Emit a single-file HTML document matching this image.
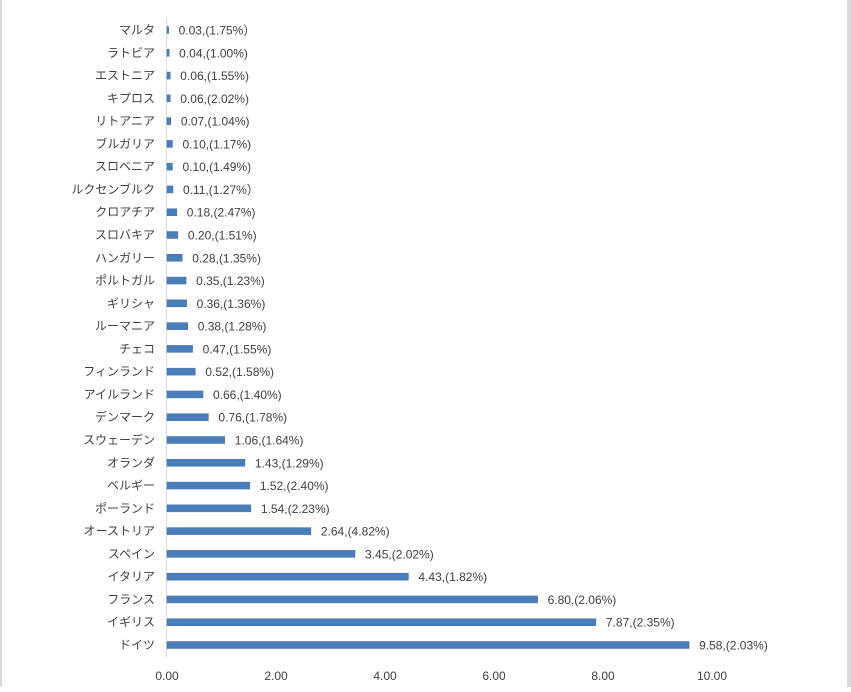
<!DOCTYPE html>
<html><head><meta charset="utf-8"><style>
body{margin:0;background:#fff}
svg text{font-family:"Liberation Sans","Noto Sans CJK JP",sans-serif;font-size:12px;fill:#404040}
</style></head><body>
<svg id="c" width="851" height="687" xmlns="http://www.w3.org/2000/svg">
<rect x="0" y="0" width="2" height="687" fill="#d9d9d9"/>
<rect x="847" y="0" width="4" height="687" fill="#d9d9d9"/>
<line x1="166.5" y1="18" x2="166.5" y2="657" stroke="#d9d9d9"/>
<g id="bars"></g><g id="ticks"></g>
</svg>
<script>
const categories=["マルタ","ラトビア","エストニア","キプロス","リトアニア","ブルガリア","スロベニア","ルクセンブルク","クロアチア","スロバキア","ハンガリー","ポルトガル","ギリシャ","ルーマニア","チェコ","フィンランド","アイルランド","デンマーク","スウェーデン","オランダ","ベルギー","ポーランド","オーストリア","スペイン","イタリア","フランス","イギリス","ドイツ"];
const values=[0.03,0.04,0.06,0.06,0.07,0.10,0.10,0.11,0.18,0.20,0.28,0.35,0.36,0.38,0.47,0.52,0.66,0.76,1.06,1.43,1.52,1.54,2.64,3.45,4.43,6.80,7.87,9.58];
const shares=["1.75%）","1.00%)","1.55%)","2.02%)","1.04%)","1.17%)","1.49%)","1.27%）","2.47%)","1.51%)","1.35%)","1.23%)","1.36%)","1.28%)","1.55%)","1.58%)","1.40%)","1.78%)","1.64%)","1.29%)","2.40%)","2.23%)","4.82%)","2.02%)","1.82%)","2.06%)","2.35%)","2.03%)"];
const tickValues=[0,2,4,6,8,10];
const NS="http://www.w3.org/2000/svg";
const x=v=>167+v*54.5;
const y=i=>30+i*(615/27);
const bars=document.getElementById('bars'),ticks=document.getElementById('ticks');
function mk(tag,a,p){const e=document.createElementNS(NS,tag);for(const k in a)e.setAttribute(k,a[k]);p.appendChild(e);return e;}
categories.forEach((c,i)=>{
 const r=mk('rect',{x:x(0),y:y(i)-3.5,width:Math.max(x(values[i])-x(0),1.5),height:7,fill:'#4a7ebb',stroke:'#3f6fa8','stroke-width':0.5},bars);
 
 
 const t=mk('text',{x:155,y:y(i)+4,'text-anchor':'end'},bars);t.textContent=c;
 
 
 const v=mk('text',{x:x(values[i])+10,y:y(i)+4.5},bars);v.textContent=values[i].toFixed(2)+',('+shares[i];
 
 
});
tickValues.forEach(t=>{
 const e=mk('text',{x:x(t),y:680,'text-anchor':'middle'},ticks);e.textContent=t.toFixed(2);
 
 
});
</script>
</body></html>
